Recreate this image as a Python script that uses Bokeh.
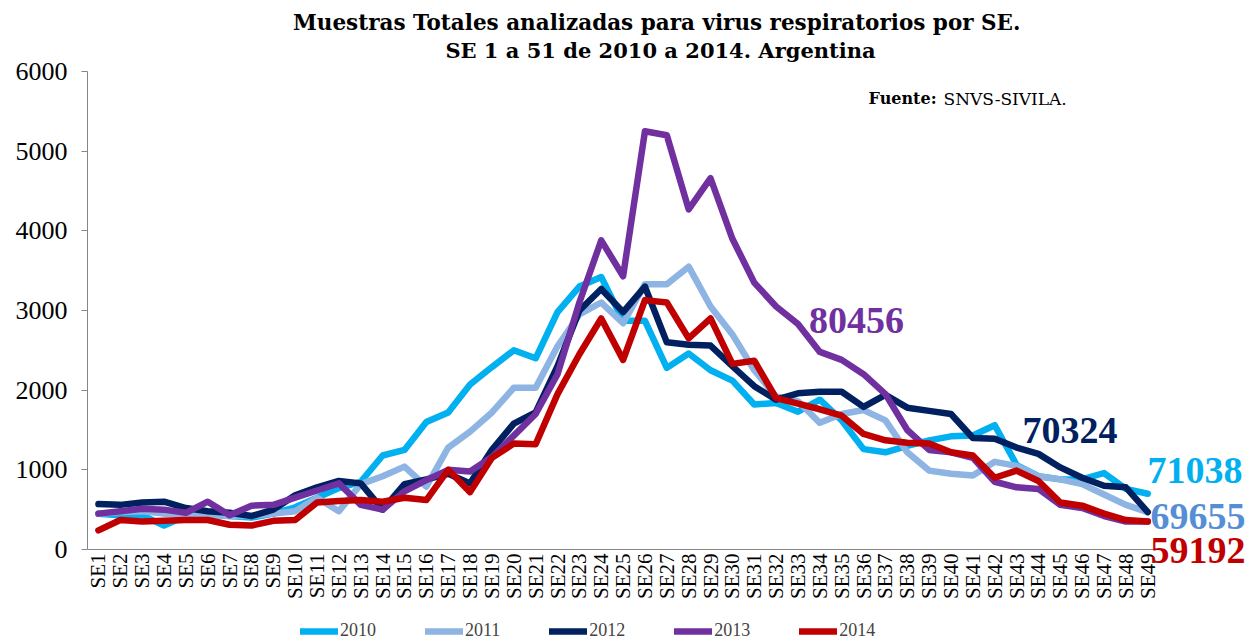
import math
from bokeh.plotting import figure
from bokeh.models import Range1d, Legend, LegendItem, Label, FixedTicker
from bokeh.embed import file_html
from bokeh.resources import INLINE

weeks = ["SE1", "SE2", "SE3", "SE4", "SE5", "SE6", "SE7", "SE8", "SE9", "SE10",
         "SE11", "SE12", "SE13", "SE14", "SE15", "SE16", "SE17", "SE18", "SE19", "SE20",
         "SE21", "SE22", "SE23", "SE24", "SE25", "SE26", "SE27", "SE28", "SE29", "SE30",
         "SE31", "SE32", "SE33", "SE34", "SE35", "SE36", "SE37", "SE38", "SE39", "SE40",
         "SE41", "SE42", "SE43", "SE44", "SE45", "SE46", "SE47", "SE48", "SE49"]

s2010 = [450, 430, 430, 300, 420, 440, 420, 400, 450, 530,
         650, 770, 850, 1180, 1250, 1600, 1720, 2070, 2290, 2500,
         2400, 2980, 3300, 3420, 2870, 2870, 2280, 2460, 2250, 2120,
         1820, 1840, 1730, 1880, 1620, 1260, 1220, 1300, 1370, 1420,
         1430, 1560, 1060, 920, 880, 880, 960, 760, 700]
s2011 = [450, 470, 480, 450, 450, 430, 420, 420, 450, 480,
         650, 480, 820, 920, 1040, 790, 1280, 1480, 1720, 2030,
         2030, 2550, 2950, 3100, 2840, 3330, 3330, 3550, 3050, 2700,
         2250, 1920, 1860, 1590, 1700, 1750, 1620, 1220, 990, 950,
         930, 1100, 1050, 920, 880, 820, 690, 560, 470]
s2012 = [570, 560, 590, 600, 520, 480, 460, 420, 500, 680,
         780, 860, 830, 500, 820, 880, 950, 830, 1250, 1580,
         1720, 2300, 3000, 3270, 2980, 3300, 2600, 2570, 2560, 2300,
         2050, 1880, 1960, 1980, 1980, 1790, 1940, 1780, 1740, 1700,
         1400, 1390, 1280, 1200, 1030, 900, 800, 780, 470]
s2013 = [450, 480, 510, 500, 460, 600, 430, 550, 560, 650,
         740, 830, 560, 500, 730, 870, 1000, 980, 1160, 1430,
         1700, 2200, 3100, 3880, 3430, 5250, 5200, 4270, 4660, 3900,
         3350, 3050, 2830, 2480, 2380, 2200, 1950, 1500, 1250, 1220,
         1150, 850, 780, 760, 560, 520, 420, 350, 350]
s2014 = [240, 370, 350, 360, 370, 370, 310, 300, 360, 370,
         590, 610, 620, 600, 650, 620, 1000, 720, 1150, 1330,
         1320, 1950, 2450, 2900, 2380, 3130, 3100, 2650, 2900, 2330,
         2370, 1900, 1830, 1760, 1680, 1450, 1370, 1340, 1330, 1220,
         1180, 900, 990, 860, 590, 550, 450, 370, 350]

years = ["2010", "2011", "2012", "2013", "2014"]
colors = ["#00B0F0", "#8DB4E2", "#002060", "#7030A0", "#C00000"]
series = [s2010, s2011, s2012, s2013, s2014]
totals = ["71038", "69655", "70324", "80456", "59192"]
total_colors = ["#00B0F0", "#558ED5", "#002060", "#7030A0", "#C00000"]
y_ticks = [0, 1000, 2000, 3000, 4000, 5000, 6000]
title_lines = ["Muestras Totales analizadas  para virus respiratorios por SE.",
               "SE 1 a 51 de 2010 a 2014. Argentina"]

SERIF = "Liberation Serif"
TSERIF = "DejaVu Serif"

xs = [i + 1 for i in range(len(weeks))]

p = figure(x_range=Range1d(0.5, 53.7), y_range=Range1d(-1155, 6891),
           width=1250, height=641, output_backend="svg", toolbar_location=None,
           min_border_left=87, min_border_right=0, min_border_top=0, min_border_bottom=0)
p.title.visible = False
p.outline_line_color = None
p.xgrid.visible = False
p.ygrid.visible = False
p.background_fill_color = "white"

p.yaxis.ticker = FixedTicker(ticks=y_ticks)
p.yaxis.bounds = (0, 6000)
p.yaxis.major_label_text_font = SERIF
p.yaxis.major_label_text_font_size = "26px"
p.yaxis.major_label_text_color = "black"
p.yaxis.axis_line_color = "#868686"
p.yaxis.major_tick_line_color = "#868686"
p.yaxis.major_tick_out = 6
p.yaxis.major_tick_in = 0
p.yaxis.minor_tick_line_color = None
p.yaxis.major_label_standoff = 14

p.xaxis.fixed_location = 0
p.xaxis.bounds = (0.5, len(weeks) + 0.5)
p.xaxis.ticker = FixedTicker(ticks=xs)
p.xaxis.major_label_overrides = {x: w for x, w in zip(xs, weeks)}
p.xaxis.major_label_orientation = math.pi / 2
p.xaxis.major_label_text_font = SERIF
p.xaxis.major_label_text_font_size = "21px"
p.xaxis.major_label_text_color = "black"
p.xaxis.axis_line_color = "#868686"
p.xaxis.major_tick_line_color = None
p.xaxis.minor_tick_line_color = None
p.xaxis.major_tick_out = 0
p.xaxis.major_label_standoff = 4

items = []
for yr, col, s in zip(years, colors, series):
    r = p.line(xs, s, line_color=col, line_width=6.5, line_join="round", line_cap="round")
    items.append(LegendItem(label=yr, renderers=[r]))

legend = Legend(items=items, orientation="horizontal", location=(213, 0),
                label_text_font=SERIF, label_text_font_size="18px",
                glyph_width=38, glyph_height=12, label_standoff=2, spacing=49,
                padding=0, margin=0, border_line_color=None, background_fill_alpha=0)
p.add_layout(legend)

# titles
p.add_layout(Label(x=26.71, y=6615, text=title_lines[0], text_font=TSERIF, text_font_size="21.5px",
                   text_font_style="bold", text_align="center", text_baseline="middle",
                   text_color="black"))
p.add_layout(Label(x=26.71, y=6263, text=title_lines[1], text_font=TSERIF, text_font_size="21px",
                   text_font_style="bold", text_align="center", text_baseline="middle",
                   text_color="black"))

# totals annotations
lab_specs = [
    (48.99, 994, totals[0], total_colors[0]),
    (49.13, 415, totals[1], total_colors[1]),
    (43.27, 1497, totals[2], total_colors[2]),
    (33.5, 2880, totals[3], total_colors[3]),
    (49.13, -10, totals[4], total_colors[4]),
]
for x, y, t, c in lab_specs:
    p.add_layout(Label(x=x, y=y, text=t, text_color=c, text_font=SERIF,
                       text_font_size="38px", text_font_style="bold",
                       text_baseline="middle", text_align="left"))

p.add_layout(Label(x=36.23, y=5660, text="Fuente:", text_font=TSERIF, text_font_size="16px",
                   text_font_style="bold", text_baseline="middle", text_color="black"))
p.add_layout(Label(x=39.66, y=5660, text="SNVS-SIVILA.", text_font=TSERIF, text_font_size="17px",
                   text_baseline="middle", text_color="black"))

open("out.html", "w").write(file_html(p, INLINE))
